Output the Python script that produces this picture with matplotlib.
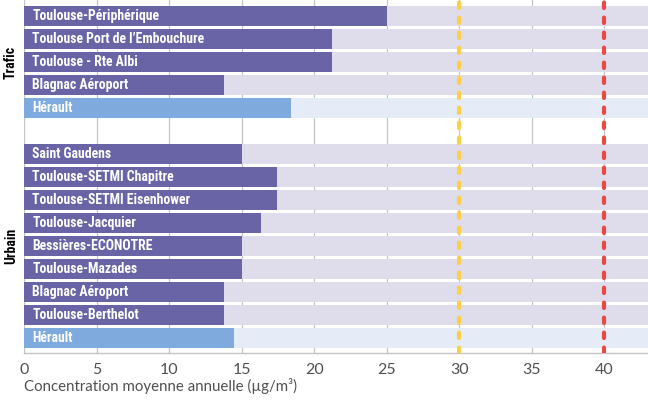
import matplotlib
matplotlib.use('Agg')
import matplotlib.pyplot as plt
from matplotlib import font_manager as fm
from matplotlib.transforms import blended_transform_factory

# ---------------- data ----------------
group_names = ['Trafic', 'Urbain']
trafic_stations = ['Toulouse-Périphérique', 'Toulouse Port de l’Embouchure',
                   'Toulouse - Rte Albi', 'Blagnac Aéroport', 'Hérault']
trafic_values = [25.0, 21.2, 21.2, 13.8, 18.4]
urbain_stations = ['Saint Gaudens', 'Toulouse-SETMI Chapitre', 'Toulouse-SETMI Eisenhower',
                   'Toulouse-Jacquier', 'Bessières-ECONOTRE', 'Toulouse-Mazades',
                   'Blagnac Aéroport', 'Toulouse-Berthelot', 'Hérault']
urbain_values = [15.0, 17.4, 17.4, 16.3, 15.0, 15.0, 13.8, 13.8, 14.5]
reference_name = 'Hérault'
thresholds = [30, 40]
x_ticks = [0, 5, 10, 15, 20, 25, 30, 35, 40]
x_label = 'Concentration moyenne annuelle (µg/m³)'

# ---------------- style ----------------
C_BAR = '#6864a6'
C_BAR_BG = '#dfdcec'
C_REF = '#7eaadd'
C_REF_BG = '#e5ebf7'
C_THR = ['#fdcf48', '#e84a43']
X_MAX = 43

names = {f.name for f in fm.fontManager.ttflist}
cond_family = 'DejaVu Sans'
for cand in ['Liberation Sans Narrow', 'Roboto Condensed', 'Roboto']:
    if cand in names:
        cond_family = cand
        break
light_family = 'Lato' if 'Lato' in names else 'DejaVu Sans'

W, H = 648, 400
fig = plt.figure(figsize=(W / 100, H / 100), dpi=100)
ax = fig.add_axes([24 / W, 47 / H, (W - 24) / W, 353 / H])

# slot positions
pos_trafic = list(range(len(trafic_stations)))
start_u = len(trafic_stations) + 1
pos_urbain = list(range(start_u, start_u + len(urbain_stations)))

stations = trafic_stations + urbain_stations
values = trafic_values + urbain_values
positions = pos_trafic + pos_urbain

bh = 20 / 23
for name, val, y in zip(stations, values, positions):
    is_ref = name == reference_name
    ax.barh(y, X_MAX, height=bh, color=C_REF_BG if is_ref else C_BAR_BG, zorder=2)
    ax.barh(y, val, height=bh, color=C_REF if is_ref else C_BAR, zorder=3)

for thr, c in zip(thresholds, C_THR):
    ax.axvline(thr, color=c, lw=3.0, linestyle=(0, (1.3, 2.3)),
               dash_capstyle='round', zorder=6)

ax.set_xlim(0, X_MAX)
ax.set_ylim(14.65, -0.696)
ax.set_yticks([])
ax.set_xticks(x_ticks)
ax.set_xticklabels([str(t) for t in x_ticks], family=light_family, fontsize=11.5,
                   color='#505050', fontweight='normal')
ax.tick_params(axis='x', length=0, pad=7)
ax.grid(axis='x', color='#c4c4c4', lw=0.9, zorder=0)
ax.set_axisbelow(True)
for s in ['top', 'right', 'left']:
    ax.spines[s].set_visible(False)
ax.spines['bottom'].set_color('#c4c4c4')
ax.spines['bottom'].set_linewidth(1.0)
ax.set_xlabel(x_label, loc='left', family=light_family, fontsize=10.8,
              color='#505050', fontweight='normal', labelpad=1)

# fit condensed label size to target width
probe = fig.text(0, 0, 'Toulouse Port de l’Embouchure', family=cond_family,
                 fontweight='bold', fontsize=10)
fig.canvas.draw()
wpx = probe.get_window_extent().width
probe.remove()
lab_size = min(10 * 172 / wpx, 10.5)

for name, y in zip(stations, positions):
    ax.annotate(name, xy=(0, y), xytext=(6.0, 0), textcoords='offset points',
                ha='left', va='center', color='white', fontweight='bold',
                family=cond_family, fontsize=lab_size, zorder=7)

tr = blended_transform_factory(fig.transFigure, ax.transData)
group_pos = [sum(pos_trafic) / len(pos_trafic), sum(pos_urbain) / len(pos_urbain)]
for g, yc in zip(group_names, group_pos):
    ax.text(11 / W, yc, g, transform=tr, rotation=90, ha='center', va='center',
            fontweight='bold', family=cond_family, fontsize=lab_size, color='black')

fig.savefig('out.png', dpi=100)
